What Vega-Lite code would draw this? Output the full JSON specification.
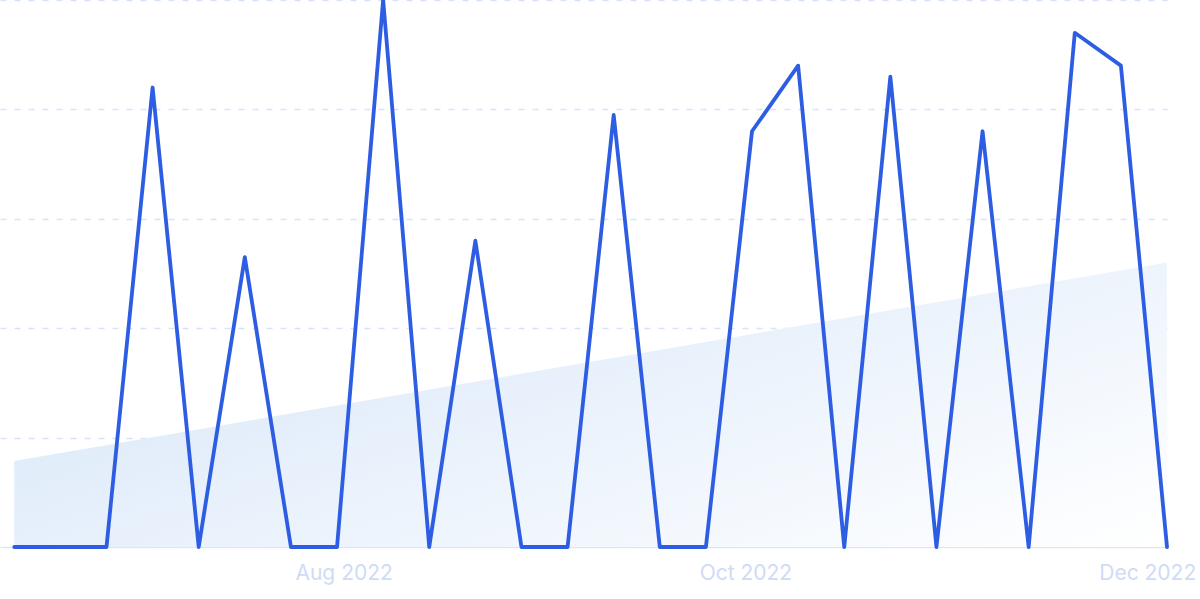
{
  "$schema": "https://vega.github.io/schema/vega-lite/v6.json",
  "autosize": {"type": "none"},
  "width": 1167,
  "height": 547,
  "padding": {"left": 0, "top": 0, "right": 33, "bottom": 52},
  "background": "#ffffff",
  "config": {"view": {"stroke": null}},
  "datasets": {
    "series": [
      {"date": "2022-06-12", "value": 0},
      {"date": "2022-06-19", "value": 0},
      {"date": "2022-06-26", "value": 0},
      {"date": "2022-07-03", "value": 84},
      {"date": "2022-07-10", "value": 0},
      {"date": "2022-07-17", "value": 53},
      {"date": "2022-07-24", "value": 0},
      {"date": "2022-07-31", "value": 0},
      {"date": "2022-08-07", "value": 100},
      {"date": "2022-08-14", "value": 0},
      {"date": "2022-08-21", "value": 56},
      {"date": "2022-08-28", "value": 0},
      {"date": "2022-09-04", "value": 0},
      {"date": "2022-09-11", "value": 79},
      {"date": "2022-09-18", "value": 0},
      {"date": "2022-09-25", "value": 0},
      {"date": "2022-10-02", "value": 76},
      {"date": "2022-10-09", "value": 88},
      {"date": "2022-10-16", "value": 0},
      {"date": "2022-10-23", "value": 86},
      {"date": "2022-10-30", "value": 0},
      {"date": "2022-11-06", "value": 76},
      {"date": "2022-11-13", "value": 0},
      {"date": "2022-11-20", "value": 94},
      {"date": "2022-11-27", "value": 88},
      {"date": "2022-12-04", "value": 0}
    ],
    "trend": [
      {"date": "2022-06-12", "value": 15.7},
      {"date": "2022-12-04", "value": 52}
    ]
  },
  "encoding": {
    "x": {
      "field": "date",
      "type": "temporal",
      "scale": {"domain": [{"year": 2022, "month": 6, "date": 9, "hours": 20}, {"year": 2022, "month": 12, "date": 4}]},
      "axis": {
        "title": null,
        "values": [{"year": 2022, "month": 8, "date": 1}, {"year": 2022, "month": 10, "date": 1}, {"year": 2022, "month": 12, "date": 1}],
        "format": "%b %Y",
        "labelFont": "Inter",
        "labelFontSize": 21,
        "labelColor": "#d0dbf6",
        "labelPadding": 15,
        "ticks": false,
        "grid": false,
        "domainColor": "#dde6f8",
        "domainWidth": 1.5
      }
    },
    "y": {
      "field": "value",
      "type": "quantitative",
      "scale": {"domain": [0, 100], "nice": false},
      "axis": {
        "title": null,
        "labels": false,
        "ticks": false,
        "domain": false,
        "values": [20, 40, 60, 80, 100],
        "grid": true,
        "gridColor": "#d6e3fb",
        "gridDash": [6, 8],
        "gridWidth": 1.3
      }
    }
  },
  "layer": [
    {
      "data": {"name": "trend"},
      "mark": {
        "type": "area",
        "fill": {
          "gradient": "linear",
          "x1": 0, "y1": 0.3, "x2": 1, "y2": 1,
          "stops": [
            {"offset": 0, "color": "#dae8f9"},
            {"offset": 1, "color": "#ffffff"}
          ]
        }
      }
    },
    {
      "data": {"name": "series"},
      "mark": {
        "type": "line",
        "color": "#2d5de2",
        "strokeWidth": 3.8,
        "strokeJoin": "round",
        "strokeCap": "round",
        "clip": false
      }
    }
  ]
}
